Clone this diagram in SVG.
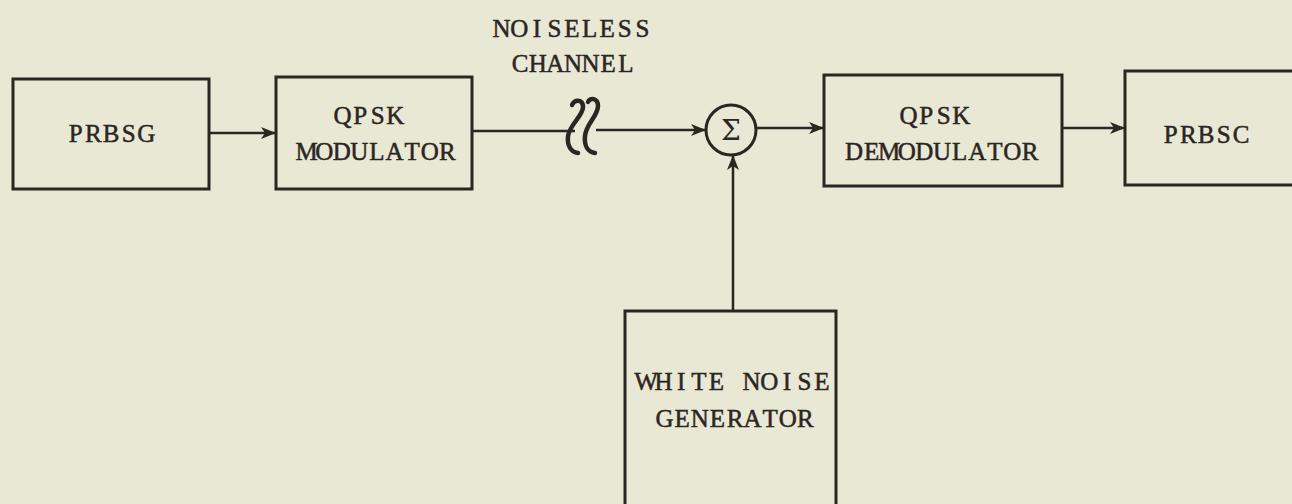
<svg xmlns="http://www.w3.org/2000/svg" width="1292" height="504" viewBox="0 0 1292 504">
<defs>
<style>
.box{fill:none;stroke:#2b2622;stroke-width:3}
.ln{fill:none;stroke:#2b2622;stroke-width:2.5}
.sq{fill:none;stroke:#2b2622;stroke-width:4.5;stroke-linecap:round}
.t{font-family:"Liberation Serif",serif;font-size:25px;fill:#2b2622;stroke:#2b2622;stroke-width:0.5;text-anchor:middle}
</style>
<marker id="ah" markerWidth="15" markerHeight="12" refX="14" refY="6" orient="auto" markerUnits="userSpaceOnUse">
<path d="M0,0 L15,6 L0,12 L4,6 Z" fill="#2b2622"/>
</marker>
</defs>
<rect width="1292" height="504" fill="#e8e8d4"/>
<g id="prbsg"><rect class="box" x="13" y="79" width="196" height="110"/><text class="t" x="75.8 93.4 111 128.6 146.2" y="142">PRBSG</text></g>
<g id="qpskmod"><rect class="box" x="276" y="77" width="196" height="112"/><text class="t" x="342.6 360.2 377.8 395.4" y="124">QPSK</text><text class="t" x="306.6 324.2 341.8 359.4 377 394.6 412.2 429.8 447.4" y="160">MODULATOR</text></g>
<g id="channel"><text class="t" x="501.6 519.2 536.8 554.4 572 589.6 607.2 624.8 642.4" y="37">NOISELESS</text><text class="t" x="520.2 537.8 555.4 573 590.6 608.2 625.8" y="72">CHANNEL</text>
<path class="sq" d="M572,105 C574,99 583,99 583,107 C583,116 570,124 568,136 C567,146 571,152 578,153"/>
<path class="sq" d="M588,102 C590,97 598,98 598,106 C598,116 586,124 585,136 C584,146 588,152 595,153"/></g>
<g id="sum"><circle class="box" cx="731" cy="130" r="25"/><text x="731" y="140" font-family="DejaVu Serif,serif" font-size="28" fill="#2b2622" text-anchor="middle">Σ</text></g>
<g id="qpskdemod"><rect class="box" x="824" y="75" width="238" height="111"/><text class="t" x="908.6 926.2 943.8 961.4" y="124">QPSK</text><text class="t" x="854 871.6 889.2 906.8 924.4 942 959.6 977.2 994.8 1012.4 1030" y="160">DEMODULATOR</text></g>
<g id="prbsc"><rect class="box" x="1125" y="71" width="180" height="114"/><text class="t" x="1170.8 1188.4 1206 1223.6 1241.2" y="143">PRBSC</text></g>
<g id="wng"><rect class="box" x="625" y="311" width="211" height="210"/><text class="t" x="646 663.6 681.2 698.8 716.4 734 751.6 769.2 786.8 804.4 822" y="390">WHITE NOISE</text><text class="t" x="664.6 682.2 699.8 717.4 735 752.6 770.2 787.8 805.4" y="427">GENERATOR</text></g>
<g id="connectors">
<line class="ln" x1="209" y1="133" x2="275" y2="133" marker-end="url(#ah)"/>
<line class="ln" x1="472" y1="131" x2="575" y2="131"/>
<line class="ln" x1="596" y1="130" x2="705" y2="130" marker-end="url(#ah)"/>
<line class="ln" x1="756" y1="128" x2="823" y2="128" marker-end="url(#ah)"/>
<line class="ln" x1="1062" y1="128" x2="1124" y2="128" marker-end="url(#ah)"/>
<line class="ln" x1="733" y1="311" x2="733" y2="156" marker-end="url(#ah)"/>
</g>
</svg>
